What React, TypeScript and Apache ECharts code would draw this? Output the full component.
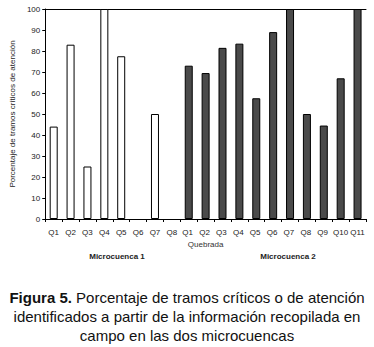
import React, { useEffect, useRef } from "react";
import * as echarts from "echarts";

const categories = ["Q1","Q2","Q3","Q4","Q5","Q6","Q7","Q8","Q1 ","Q2 ","Q3 ","Q4 ","Q5 ","Q6 ","Q7 ","Q8 ","Q9 ","Q10","Q11"];
const micro1 = [44, 83, 25, 100, 77.5, 0, 50, 0];
const micro2 = [73, 69.5, 81.5, 83.5, 57.5, 89, 100, 50, 44.5, 67, 100];
const yTicks = { min: 0, max: 100, interval: 10 };

export default function App() {
  const ref = useRef<HTMLDivElement>(null);
  useEffect(() => {
    const chart = echarts.init(ref.current!, null, { renderer: "svg" });
    const n1 = micro1.length;
    const item = (v: number) => (v === 0 ? { value: 0, itemStyle: { borderWidth: 0, opacity: 0 } } : v);
    const s1 = categories.map((_, i) => (i < n1 ? item(micro1[i]) : "-"));
    const s2 = categories.map((_, i) => (i >= n1 ? item(micro2[i - n1]) : "-"));
    const font = "Liberation Sans, Arial, sans-serif";
    chart.setOption({
      animation: false,
      grid: { left: 37, top: 9, width: 329, height: 210 },
      xAxis: [
        {
          type: "category",
          data: categories,
          name: "Quebrada",
          nameLocation: "middle",
          nameGap: 19,
          nameTextStyle: { fontSize: 8, color: "#333", fontFamily: font },
          axisLine: { lineStyle: { color: "#000", width: 1 } },
          axisTick: { show: true, length: 3, lineStyle: { color: "#000" } },
          axisLabel: { fontSize: 8, color: "#222", fontFamily: font, margin: 9, interval: 0 },
        },
        {
          type: "category",
          data: categories,
          position: "top",
          axisLine: { lineStyle: { color: "#000", width: 1 } },
          axisTick: { show: false },
          axisLabel: { show: false },
        },
      ],
      yAxis: {
        type: "value",
        min: yTicks.min,
        max: yTicks.max,
        interval: yTicks.interval,
        name: "Porcentaje de tramos críticos de atención",
        nameLocation: "middle",
        nameGap: 21,
        nameTextStyle: { fontSize: 8, color: "#222", fontFamily: font },
        axisLine: { show: true, lineStyle: { color: "#000", width: 1 } },
        axisTick: { show: true, length: 3, lineStyle: { color: "#000" } },
        axisLabel: { fontSize: 8, color: "#222", fontFamily: font, margin: 5 },
        splitLine: { show: false },
      },
      series: [
        {
          type: "bar",
          stack: "a",
          data: s1,
          barWidth: 8,
          itemStyle: { color: "#fff", borderColor: "#000", borderWidth: 1 },
        },
        {
          type: "bar",
          stack: "a",
          data: s2,
          barWidth: 8,
          itemStyle: { color: "#4a4a4a", borderColor: "#000", borderWidth: 1 },
        },
      ],
      graphic: [
        { type: "text", x: 117, y: 256, style: { text: "Microcuenca 1", fontSize: 8, fontWeight: "bold", fill: "#222", fontFamily: font, textAlign: "center", textVerticalAlign: "middle" } },
        { type: "text", x: 288, y: 256, style: { text: "Microcuenca 2", fontSize: 8, fontWeight: "bold", fill: "#222", fontFamily: font, textAlign: "center", textVerticalAlign: "middle" } },
        {
          type: "text",
          x: 187,
          y: 288,
          style: {
            text: "{b|Figura 5.} Porcentaje de tramos críticos o de atención\nidentificados a partir de la información recopilada en\ncampo en las dos microcuencas",
            textAlign: "center",
            fontSize: 15,
            lineHeight: 19,
            fill: "#111",
            fontFamily: font,
            rich: { b: { fontWeight: "bold", fontSize: 15, fontFamily: font, fill: "#111", lineHeight: 19 } },
          },
        },
      ],
    });
    return () => chart.dispose();
  }, []);
  return <div ref={ref} style={{ width: 374, height: 347, position: "absolute", left: 0, top: 0 }} />;
}
